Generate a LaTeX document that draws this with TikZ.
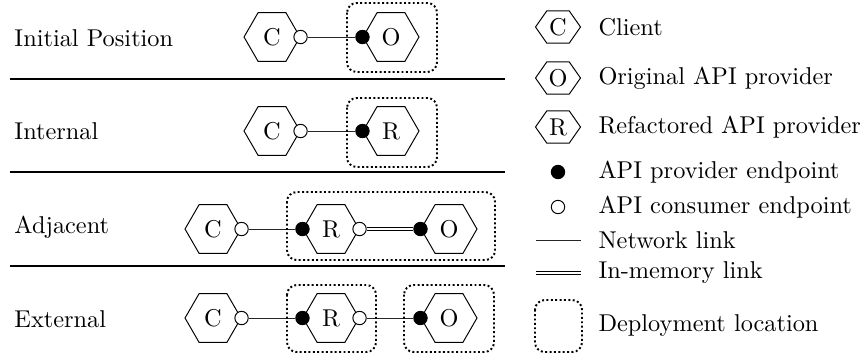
\documentclass[tikz,border=0pt]{standalone}
\usetikzlibrary{shapes.symbols}
\begin{document}
\begin{tikzpicture}[x=0.411pt, y=-0.411pt,
  hexnode/.style={draw, signal, signal to=west and east, signal pointer angle=120,
    minimum width=23pt, minimum height=20pt, inner sep=0pt},
  keyhex/.style={draw, signal, signal to=west and east, signal pointer angle=110,
    minimum width=18.5pt, minimum height=13.2pt, inner sep=0pt},
  provider/.style={circle, draw, fill=black, minimum size=5.5pt, inner sep=0pt},
  consumer/.style={circle, draw, fill=white, minimum size=5.5pt, inner sep=0pt},
  netlink/.style={draw=black!85},
  memlink/.style={double, double distance=0.7pt},
  deploy/.style={densely dotted, line width=0.8pt, rounded corners=4pt},
  rowlabel/.style={anchor=west, inner sep=0pt},
  keytext/.style={anchor=west, inner sep=0pt},
  separator/.style={line width=0.5pt}]

\useasboundingbox (0,0) rectangle (864,358);

% scenario labels and separators
\node[rowlabel] (l1) at (14,38) {Initial Position};
\node[rowlabel] (l2) at (14,131) {Internal};
\node[rowlabel] (l3) at (14,227) {Adjacent};
\node[rowlabel] (l4) at (14,319) {External};
\coordinate (s1a) at (10,79);  \coordinate (s1b) at (505,79);
\coordinate (s2a) at (10,172); \coordinate (s2b) at (505,172);
\coordinate (s3a) at (10,266); \coordinate (s3b) at (505,266);
\draw[separator] (s1a) -- (s1b);
\draw[separator] (s2a) -- (s2b);
\draw[separator] (s3a) -- (s3b);

% initial position
\node[hexnode] (c1) at (272,37) {C};
\node[hexnode] (o1) at (391,37) {O};
\node[consumer] (c1e) at (c1.east) {};
\node[provider] (o1w) at (o1.west) {};
\draw[netlink] (c1e) -- (o1w);
\draw[deploy] (347,3) rectangle (437,72);

% internal
\node[hexnode] (c2) at (272,131) {C};
\node[hexnode] (r2) at (391,131) {R};
\node[consumer] (c2e) at (c2.east) {};
\node[provider] (r2w) at (r2.west) {};
\draw[netlink] (c2e) -- (r2w);
\draw[deploy] (347,98) rectangle (437,167);

% adjacent
\node[hexnode] (c3) at (213,229) {C};
\node[hexnode] (r3) at (331,229) {R};
\node[hexnode] (o3) at (449,229) {O};
\node[consumer] (c3e) at (c3.east) {};
\node[provider] (r3w) at (r3.west) {};
\node[consumer] (r3e) at (r3.east) {};
\node[provider] (o3w) at (o3.west) {};
\draw[netlink] (c3e) -- (r3w);
\draw[memlink] (r3e) -- (o3w);
\draw[deploy] (287,192) rectangle (495,260);

% external
\node[hexnode] (c4) at (213,318) {C};
\node[hexnode] (r4) at (331,318) {R};
\node[hexnode] (o4) at (449,318) {O};
\node[consumer] (c4e) at (c4.east) {};
\node[provider] (r4w) at (r4.west) {};
\node[consumer] (r4e) at (r4.east) {};
\node[provider] (o4w) at (o4.west) {};
\draw[netlink] (c4e) -- (r4w);
\draw[netlink] (r4e) -- (o4w);
\draw[deploy] (287,285) rectangle (376,352);
\draw[deploy] (404,285) rectangle (494,352);

% legend
\node[keyhex] (kc) at (558,27) {C};
\node[keyhex] (ko) at (558,78) {O};
\node[keyhex] (kr) at (558,127) {R};
\node[provider] (kp) at (558,172) {};
\node[consumer] (kq) at (558,207) {};
\coordinate (kna) at (536,240); \coordinate (knb) at (581,240);
\coordinate (kma) at (536,273); \coordinate (kmb) at (581,273);
\draw[netlink] (kna) -- (knb);
\draw[memlink] (kma) -- (kmb);
\draw[deploy] (535,300) rectangle (582,352);

\node[keytext] (tc) at (598,27) {Client};
\node[keytext] (to) at (598,78) {Original API provider};
\node[keytext] (tr) at (598,127) {Refactored API provider};
\node[keytext] (tp) at (598,172) {API provider endpoint};
\node[keytext] (tq) at (598,207) {API consumer endpoint};
\node[keytext] (tn) at (598,240) {Network link};
\node[keytext] (tm) at (598,273) {In-memory link};
\node[keytext] (td) at (598,326) {Deployment location};
\end{tikzpicture}
\end{document}
